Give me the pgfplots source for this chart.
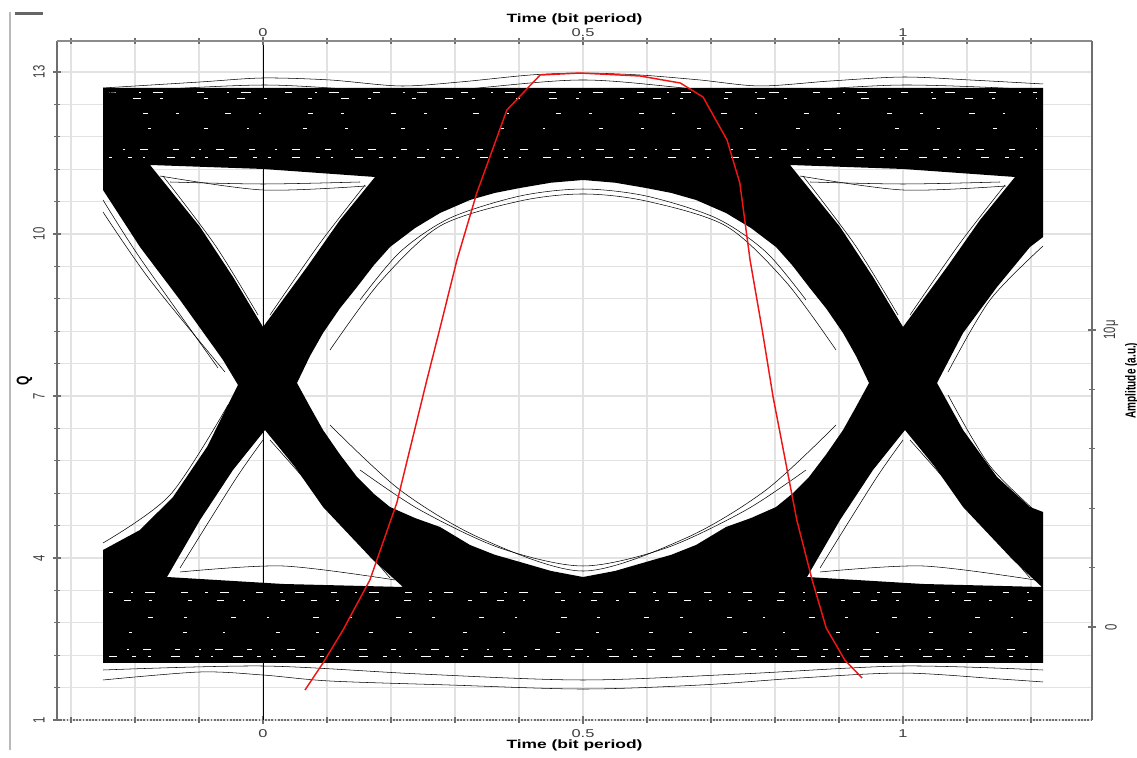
\documentclass[border=0pt]{standalone}
\usepackage{fontspec}
\setmainfont{Liberation Sans}
\usepackage{graphicx}
\usepackage{pgfplots}
\pgfplotsset{compat=1.18}

\definecolor{gridc}{HTML}{E2E2E2}
\definecolor{axc}{HTML}{6E6E6E}
\definecolor{tickc}{HTML}{3C3C3C}
\definecolor{redc}{HTML}{F01515}
\newcommand{\hs}[1]{\scalebox{1.45}[1]{#1}}
\newcommand{\vs}[1]{\scalebox{1}[1.45]{#1}}

\begin{document}
\begin{tikzpicture}
\begin{axis}[
  name=main,
  scale only axis, width=776.25pt, height=509.25pt,
  xmin=-0.3219, xmax=1.2953, ymin=1, ymax=13.574,
  axis x line*=bottom, axis y line*=left,
  x axis line style={draw=axc, line width=1.4pt, densely dotted, -},
  y axis line style={draw=axc, line width=2.2pt, -},
  xtick={0,0.5,1}, xticklabels={\hs{0},\hs{0.5},\hs{1}},
  minor xtick={-0.3,-0.2,-0.1,0.1,0.2,0.3,0.4,0.6,0.7,0.8,0.9,1.1,1.2},
  ytick={1,4,7,10,13},
  yticklabels={\rotatebox{90}{\vs{1}},\rotatebox{90}{\vs{4}},\rotatebox{90}{\vs{7}},\rotatebox{90}{\vs{10}},\rotatebox{90}{\vs{13}}},
  minor y tick num=4,
  grid=both,
  major grid style={gridc, line width=1pt},
  minor grid style={gridc, line width=1pt},
  tick align=center, major tick length=6pt, minor tick length=4pt,
  every tick/.style={axc, line width=0.8pt},
  xticklabel style={anchor=center, yshift=-7.2pt, font=\fontsize{8.5}{9}\selectfont, text=tickc},
  yticklabel style={anchor=center, xshift=-10.5pt, font=\fontsize{8.5}{9}\selectfont, text=tickc},
  xlabel={\hs{\bfseries Time (bit period)}},
  xlabel style={at={(rel axis cs:0.5,0)}, anchor=center, yshift=-18.8pt, font=\fontsize{9}{10}\selectfont},
  ylabel={\vs{\bfseries Q}},
  ylabel style={at={(rel axis cs:-0.0315,0.5)}, anchor=center, font=\fontsize{9}{10}\selectfont},
  unbounded coords=jump,
]
% dense eye pattern (even-odd: outer region minus eye openings)
\addplot[fill=black, draw=none, even odd rule] coordinates {
(-0.25,12.704) (1.2188,12.704) (1.2188,9.944) (1.1984,9.759) (1.1469,9.019) (1.0938,8.167) (1.0531,7.241) (1.0938,6.370) (1.1469,5.500) (1.1984,4.944) (1.2188,4.852) (1.2188,2.056) (-0.25,2.056) (-0.25,4.148) (-0.1922,4.519) (-0.1406,5.130) (-0.0875,6.056) (-0.0391,7.204) (-0.0625,7.667) (-0.1297,8.778) (-0.1922,9.759) (-0.25,10.815)
(nan,nan)
(0.0531,7.241) (0.0734,7.740) (0.0938,8.167) (0.1200,8.620) (0.1469,9.019) (0.1730,9.420) (0.1984,9.759) (0.2375,10.110) (0.2766,10.389) (0.3234,10.630) (0.3620,10.760) (0.4016,10.852) (0.4500,10.950) (0.5,11.0) (0.5500,10.950) (0.5984,10.852) (0.6380,10.760) (0.6766,10.630) (0.7234,10.389) (0.7625,10.110) (0.8016,9.759) (0.8270,9.420) (0.8531,9.019) (0.8800,8.620) (0.9063,8.167) (0.9266,7.740) (0.9469,7.241) (0.9266,6.800) (0.9063,6.370) (0.8800,5.920) (0.8531,5.500) (0.8270,5.190) (0.8016,4.944) (0.7625,4.740) (0.7234,4.574) (0.6766,4.241) (0.6380,4.060) (0.5984,3.926) (0.5500,3.760) (0.5,3.648) (0.4500,3.760) (0.4016,3.926) (0.3620,4.060) (0.3234,4.241) (0.2766,4.574) (0.2375,4.740) (0.1984,4.944) (0.1730,5.190) (0.1469,5.500) (0.1200,5.920) (0.0938,6.370) (0.0734,6.800)
(nan,nan)
(-0.1766,11.278) (0,11.204) (0.175,11.056) (0.1203,10.259) (0.0688,9.389) (0,8.278) (-0.0469,9.204) (-0.0984,10.130)
(nan,nan)
(0.8234,11.278) (1,11.204) (1.175,11.056) (1.1203,10.259) (1.0688,9.389) (1,8.278) (0.9531,9.204) (0.9016,10.130)
(nan,nan)
(0.0031,6.370) (0.05,5.685) (0.0938,4.944) (0.1719,3.963) (0.2188,3.463) (0.0313,3.519) (-0.15,3.648) (-0.0984,4.704) (-0.0469,5.630)
(nan,nan)
(1.0031,6.370) (1.05,5.685) (1.0938,4.944) (1.1719,3.963) (1.217,3.463) (1.0313,3.519) (0.85,3.648) (0.9016,4.704) (0.9531,5.630)
};
% white speckle streaks inside the rails (sparse, irregular)
\addplot[white, line width=0.5pt, dash pattern=on 5pt off 17pt on 2pt off 9pt on 7pt off 26pt] coordinates {(-0.24,12.63) (1.21,12.63)};
\addplot[white, line width=0.5pt, dash pattern=on 3pt off 22pt on 6pt off 14pt on 2pt off 31pt, dash phase=7pt] coordinates {(-0.24,12.52) (1.21,12.52)};
\addplot[white, line width=0.4pt, dash pattern=on 2pt off 35pt on 4pt off 21pt, dash phase=12pt] coordinates {(-0.24,12.24) (1.21,12.24)};
\addplot[white, line width=0.4pt, dash pattern=on 3pt off 29pt on 2pt off 40pt, dash phase=3pt] coordinates {(-0.24,11.95) (1.21,11.95)};
\addplot[white, line width=0.5pt, dash pattern=on 4pt off 15pt on 2pt off 11pt on 6pt off 19pt, dash phase=9pt] coordinates {(-0.24,11.56) (1.21,11.56)};
\addplot[white, line width=0.5pt, dash pattern=on 6pt off 12pt on 3pt off 8pt on 2pt off 16pt, dash phase=4pt] coordinates {(-0.24,11.42) (1.21,11.42)};
\addplot[white, line width=0.5pt, dash pattern=on 5pt off 13pt on 2pt off 9pt on 7pt off 20pt, dash phase=2pt] coordinates {(-0.24,3.36) (1.21,3.36)};
\addplot[white, line width=0.5pt, dash pattern=on 3pt off 19pt on 5pt off 14pt on 2pt off 27pt, dash phase=11pt] coordinates {(-0.24,3.22) (1.21,3.22)};
\addplot[white, line width=0.4pt, dash pattern=on 2pt off 33pt on 4pt off 23pt, dash phase=6pt] coordinates {(-0.24,2.90) (1.21,2.90)};
\addplot[white, line width=0.4pt, dash pattern=on 3pt off 27pt on 2pt off 38pt, dash phase=15pt] coordinates {(-0.24,2.62) (1.21,2.62)};
\addplot[white, line width=0.5pt, dash pattern=on 4pt off 14pt on 2pt off 10pt on 6pt off 18pt, dash phase=5pt] coordinates {(-0.24,2.30) (1.21,2.30)};
\addplot[white, line width=0.5pt, dash pattern=on 7pt off 11pt on 3pt off 9pt on 2pt off 15pt, dash phase=1pt] coordinates {(-0.24,2.17) (1.21,2.17)};
% fringe traces
\addplot[black, line width=0.4pt, smooth] coordinates {(-0.25,12.704) (-0.0984,12.815) (0,12.889) (0.1047,12.852) (0.2141,12.741) (0.3078,12.815) (0.4172,12.944) (0.5,12.981) (0.5891,12.944) (0.6828,12.852) (0.7766,12.741) (0.8859,12.833) (1.0,12.907) (1.1047,12.852) (1.2188,12.778)};
\addplot[black, line width=0.4pt, smooth] coordinates {(-0.25,12.611) (0,12.759) (0.2453,12.63) (0.5,12.852) (0.7453,12.63) (1.0,12.759) (1.2188,12.667)};
\addplot[black, line width=0.4pt, smooth] coordinates {(-0.25,1.741) (-0.0984,1.889) (0,1.833) (0.1047,1.722) (0.2922,1.648) (0.5,1.574) (0.6828,1.648) (0.8391,1.778) (1.0,1.87) (1.1516,1.759) (1.2188,1.704)};
\addplot[black, line width=0.4pt, smooth] coordinates {(-0.25,1.926) (0,2.0) (0.2453,1.852) (0.5,1.741) (0.7453,1.852) (1.0,2.0) (1.2188,1.926)};
% eye inner traces
\addplot[black, line width=0.4pt, smooth] coordinates {(0.1516,8.778) (0.2141,9.667) (0.2922,10.296) (0.4016,10.704) (0.5,10.833) (0.5984,10.704) (0.7078,10.296) (0.7859,9.667) (0.8484,8.778)};
\addplot[black, line width=0.4pt, smooth] coordinates {(0.1047,7.852) (0.1828,9.111) (0.2766,10.148) (0.4016,10.611) (0.5,10.741) (0.5984,10.611) (0.7234,10.148) (0.8172,9.111) (0.8953,7.852)};
\addplot[black, line width=0.4pt, smooth] coordinates {(0.1516,5.630) (0.2453,4.889) (0.3703,4.185) (0.5,3.852) (0.6297,4.185) (0.7547,4.889) (0.8484,5.630)};
\addplot[black, line width=0.4pt, smooth] coordinates {(0.1047,6.463) (0.2141,5.259) (0.3391,4.370) (0.5,3.759) (0.6609,4.370) (0.7859,5.259) (0.8953,6.463)};
% triangle traces, crossing 0
\addplot[black, line width=0.4pt, smooth] coordinates {(-0.1609,11.074) (0,10.815) (0.1609,10.889)};
\addplot[black, line width=0.4pt, smooth] coordinates {(-0.1453,10.963) (0,10.926) (0.1516,10.963)};
\addplot[black, line width=0.4pt, smooth] coordinates {(-0.1563,11.074) (-0.075,9.796) (-0.0078,8.5)};
\addplot[black, line width=0.4pt, smooth] coordinates {(0.1594,10.907) (0.0891,9.833) (0.0109,8.5)};
\addplot[black, line width=0.4pt, smooth] coordinates {(-0.1297,3.741) (0.0313,3.852) (0.2063,3.593)};
\addplot[black, line width=0.4pt, smooth] coordinates {(-0.1297,3.815) (-0.0438,5.444) (0,6.185)};
\addplot[black, line width=0.4pt, smooth] coordinates {(0.0109,6.185) (0.1047,4.926) (0.1984,3.630)};
% triangle traces, crossing 1
\addplot[black, line width=0.4pt, smooth] coordinates {(0.8391,11.074) (1,10.815) (1.1609,10.889)};
\addplot[black, line width=0.4pt, smooth] coordinates {(0.8547,10.963) (1,10.926) (1.1516,10.963)};
\addplot[black, line width=0.4pt, smooth] coordinates {(0.8437,11.074) (0.925,9.796) (0.9922,8.5)};
\addplot[black, line width=0.4pt, smooth] coordinates {(1.1594,10.907) (1.0891,9.833) (1.0109,8.5)};
\addplot[black, line width=0.4pt, smooth] coordinates {(0.8703,3.741) (1.0313,3.852) (1.2063,3.593)};
\addplot[black, line width=0.4pt, smooth] coordinates {(0.8703,3.815) (0.9562,5.444) (1,6.185)};
\addplot[black, line width=0.4pt, smooth] coordinates {(1.0109,6.185) (1.1047,4.926) (1.1984,3.630)};
% partial eyes at the edges
\addplot[black, line width=0.4pt, smooth] coordinates {(-0.25,10.63) (-0.1922,9.556) (-0.0703,7.519)};
\addplot[black, line width=0.4pt, smooth] coordinates {(-0.25,10.407) (-0.1766,9.148) (-0.0594,7.444)};
\addplot[black, line width=0.4pt, smooth] coordinates {(-0.25,4.278) (-0.1453,5.167) (-0.0547,6.833)};
\addplot[black, line width=0.4pt, smooth] coordinates {(1.2188,9.778) (1.1359,8.778) (1.0703,7.444)};
\addplot[black, line width=0.4pt, smooth] coordinates {(1.2188,4.741) (1.1359,5.704) (1.0703,7.019)};
% zero line
\addplot[black, line width=0.6pt] coordinates {(0,1) (0,13.574)};
% Q curve
\addplot[redc, line width=1.1pt] coordinates {
(0.0656,1.556) (0.0938,2.056) (0.125,2.667) (0.167,3.593) (0.209,5.019) (0.256,7.296) (0.277,8.278) (0.303,9.519) (0.334,10.759) (0.381,12.296) (0.433,12.944) (0.495,12.981) (0.589,12.926) (0.652,12.796) (0.6875,12.537) (0.725,11.741) (0.745,10.944) (0.761,9.519) (0.780,8.222) (0.797,6.981) (0.816,5.815) (0.834,4.704) (0.858,3.593) (0.880,2.704) (0.909,2.111) (0.936,1.778)};
\coordinate (bl) at (rel axis cs:0,0);
\end{axis}
\begin{axis}[
  scale only axis, width=776.25pt, height=509.25pt,
  xmin=-0.3219, xmax=1.2953, ymin=-3.131, ymax=19.73,
  axis x line*=top, axis y line*=right,
  x axis line style={draw=axc!80, line width=0.8pt, -},
  y axis line style={draw=axc, line width=2.2pt, -},
  xtick={0,0.5,1}, xticklabels={\hs{0},\hs{0.5},\hs{1}},
  minor xtick={-0.3,-0.2,-0.1,0.1,0.2,0.3,0.4,0.6,0.7,0.8,0.9,1.1,1.2},
  ytick={0,10}, yticklabels={\rotatebox{90}{\vs{0}},\rotatebox{90}{\vs{10μ}}},
  minor y tick num=4,
  tick align=center, major tick length=6pt, minor tick length=4pt,
  every tick/.style={axc, line width=0.8pt},
  xticklabel style={anchor=center, yshift=3pt, font=\fontsize{8.5}{9}\selectfont, text=tickc},
  yticklabel style={anchor=center, xshift=11.25pt, font=\fontsize{8.5}{9}\selectfont, text=tickc},
  xlabel={\hs{\bfseries Time (bit period)}},
  xlabel style={at={(rel axis cs:0.5,1)}, anchor=center, yshift=16.5pt, font=\fontsize{9}{10}\selectfont},
  ylabel={\vs{\bfseries Amplitude (a.u.)}},
  ylabel style={at={(rel axis cs:1.0386,0.5)}, anchor=center, font=\fontsize{7.5}{9}\selectfont},
  title={\hs{\bfseries BER Analyzer}},
  title style={at={(rel axis cs:0.5,1)}, anchor=center, yshift=29pt, font=\fontsize{9}{10}\selectfont},
]
\end{axis}
\draw[gray!55, line width=2.2pt] ([xshift=-35.25pt, yshift=-22.5pt]bl) -- ++(0,553.5pt);
\fill[gray!80!black] ([xshift=-31.5pt, yshift=528.75pt]bl) rectangle ++(21pt,2.25pt);
\pgfresetboundingbox
\path[use as bounding box] ([xshift=-42.75pt, yshift=-27.75pt]bl) rectangle ++(852.75pt,567.75pt);
\end{tikzpicture}
\end{document}
